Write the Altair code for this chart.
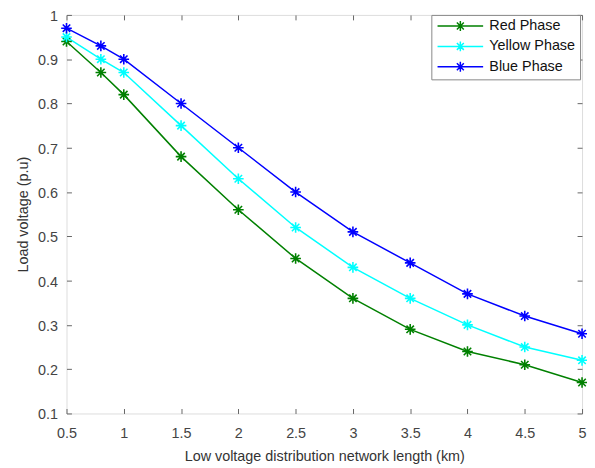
import altair as alt
import pandas as pd

lengths = [0.5, 0.8, 1, 1.5, 2, 2.5, 3, 3.5, 4, 4.5, 5]
red_phase = [0.94, 0.87, 0.82, 0.68, 0.56, 0.45, 0.36, 0.29, 0.24, 0.21, 0.17]
yellow_phase = [0.95, 0.90, 0.87, 0.75, 0.63, 0.52, 0.43, 0.36, 0.30, 0.25, 0.22]
blue_phase = [0.97, 0.93, 0.90, 0.80, 0.70, 0.60, 0.51, 0.44, 0.37, 0.32, 0.28]
series_names = ["Red Phase", "Yellow Phase", "Blue Phase"]
series_colors = ["#008000", "#00FFFF", "#0000FF"]
x_ticks = [0.5, 1, 1.5, 2, 2.5, 3, 3.5, 4, 4.5, 5]
y_ticks = [0.1, 0.2, 0.3, 0.4, 0.5, 0.6, 0.7, 0.8, 0.9, 1.0]

rows = []
for name, vals in zip(series_names, [red_phase, yellow_phase, blue_phase]):
    for x, v in zip(lengths, vals):
        rows.append({"length": x, "voltage": v, "series": name})
df = pd.DataFrame(rows)

FONT = "Liberation Sans"
ASTERISK = "M-1,0L1,0M0,-1L0,1M-0.7,-0.7L0.7,0.7M-0.7,0.7L0.7,-0.7"
# legend glyph: a line with an asterisk in the middle (units of 5px)
LEGEND_SYM = ("M-1,0L8.2,0M2.6,0L4.6,0M3.6,-1L3.6,1"
              "M2.9,-0.7L4.3,0.7M2.9,0.7L4.3,-0.7")

xscale = alt.Scale(domain=[0.5, 5], nice=False, zero=False)
yscale = alt.Scale(domain=[0.1, 1], nice=False, zero=False)
cscale = alt.Scale(domain=series_names, range=series_colors)

x_main = alt.X("length:Q", scale=xscale, axis=alt.Axis(
    orient="bottom", values=x_ticks, format="~g", offset=-5, tickSize=5,
    domain=False, grid=False, tickColor="#666", labelColor="#444",
    labelFont=FONT, labelFontSize=14.5, labelPadding=13, labelFlush=False,
    title="Low voltage distribution network length (km)", titleFont=FONT,
    titleFontSize=14.5, titleFontWeight="normal", titleColor="#333", titlePadding=10))
y_main = alt.Y("voltage:Q", scale=yscale, axis=alt.Axis(
    orient="left", values=y_ticks, format="~g", offset=-5, tickSize=5,
    domain=False, grid=False, tickColor="#666", labelColor="#444",
    labelFont=FONT, labelFontSize=14.5, labelPadding=9, labelFlush=False,
    labelOffset=1.5,
    title="Load voltage (p.u)", titleFont=FONT, titleFontSize=14.5,
    titleFontWeight="normal", titleColor="#333", titlePadding=7))

color = alt.Color("series:N", scale=cscale, sort=series_names, legend=alt.Legend(
    title=None, orient="none", legendX=368, legendY=0, symbolType=LEGEND_SYM,
    symbolSize=100, symbolStrokeWidth=1.5, symbolFillColor="transparent",
    labelFont=FONT, labelFontSize=14.5, labelColor="#111", labelOffset=40,
    strokeColor="#888", fillColor="white", padding=4, rowPadding=3.5))

base = alt.Chart(df)
lines = base.mark_line(strokeWidth=1.5).encode(x=x_main, y=y_main, color=color)
points = base.mark_point(shape=ASTERISK, filled=False, size=115, strokeWidth=1.6, opacity=1).encode(
    x=x_main, y=y_main, color=color)
main = alt.layer(lines, points)

x_top = alt.X("length:Q", scale=xscale, axis=alt.Axis(
    orient="top", values=x_ticks, offset=-5, tickSize=5, domain=False,
    labels=False, grid=False, tickColor="#666", title=None))
y_right = alt.Y("voltage:Q", scale=yscale, axis=alt.Axis(
    orient="right", values=y_ticks, offset=-5, tickSize=5, domain=False,
    labels=False, grid=False, tickColor="#666", title=None))
ghost = base.mark_point(opacity=0).encode(x=x_top, y=y_right)

chart = alt.layer(main, ghost).resolve_scale(
    x="independent", y="independent", color="shared"
).properties(
    width=520, height=402,
    autosize=alt.AutoSizeParams(type="none"),
    padding={"left": 59, "top": 5, "right": 5, "bottom": 50},
).configure_view(stroke="#777", strokeWidth=1).configure(background="white")

chart.save("out.html", embed_options={"renderer": "svg", "actions": False})
